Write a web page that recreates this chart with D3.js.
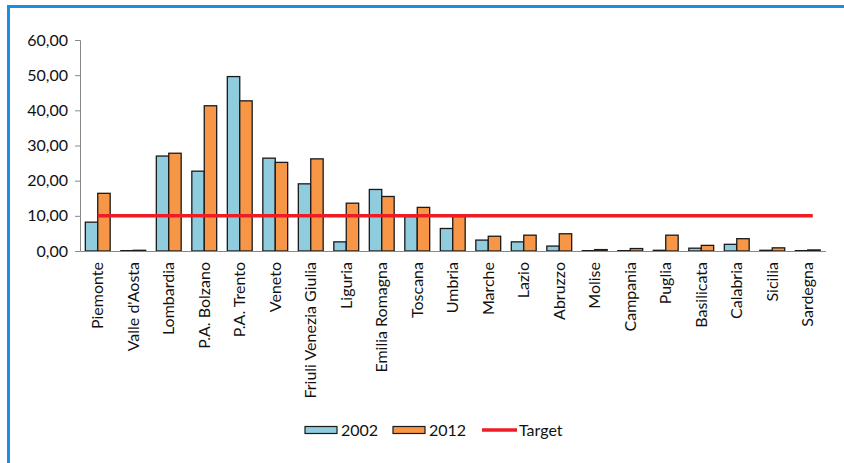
<!DOCTYPE html>
<html>
<head>
<meta charset="utf-8">
<script src="https://cdn.jsdelivr.net/npm/d3@7"></script>
<style>
  html, body { margin: 0; padding: 0; background: #fff; }
  svg { display: block; font-family: Lato, "Open Sans", sans-serif; }
</style>
</head>
<body>
<svg id="chart" width="844" height="463"></svg>
<script>
const categories = ["Piemonte", "Valle d'Aosta", "Lombardia", "P.A. Bolzano", "P.A. Trento", "Veneto",
  "Friuli Venezia Giulia", "Liguria", "Emilia Romagna", "Toscana", "Umbria", "Marche", "Lazio",
  "Abruzzo", "Molise", "Campania", "Puglia", "Basilicata", "Calabria", "Sicilia", "Sardegna"];
const values2002 = [8.2, 0.1, 27.0, 22.7, 49.6, 26.4, 19.1, 2.6, 17.5, 9.8, 6.4, 3.1, 2.6, 1.4, 0.1, 0.1, 0.2, 0.8, 1.9, 0.2, 0.1];
const values2012 = [16.4, 0.2, 27.8, 41.3, 42.7, 25.2, 26.2, 13.6, 15.5, 12.4, 9.8, 4.2, 4.5, 4.9, 0.4, 0.7, 4.5, 1.6, 3.5, 0.9, 0.3];
const targetValue = 10;
const yTicks = [0, 10, 20, 30, 40, 50, 60];
const seriesNames = ["2002", "2012"];
const seriesColors = ["#8FCDDE", "#F79646"];
const targetName = "Target";

const svg = d3.select("#chart");
const FS = 16;

// frame
svg.append("rect")
  .attr("x", 8.5).attr("y", 6.5)
  .attr("width", 860).attr("height", 480)
  .attr("fill", "#fff")
  .attr("stroke", "#1A8FDF").attr("stroke-width", 3);

const mLeft = 80, mRight = 825.5, mTop = 40, mBottom = 251;

const x = d3.scaleBand().domain(categories).range([mLeft, mRight]).paddingInner(0.3).paddingOuter(0.15);
const xs = d3.scaleBand().domain(seriesNames).range([0, x.bandwidth()]);
const y = d3.scaleLinear().domain([0, 60]).range([mBottom, mTop]);

const fmt = v => d3.format(".2f")(v).replace(".", ",");

// y axis
const yAxis = svg.append("g")
  .attr("transform", `translate(${mLeft},0)`)
  .call(d3.axisLeft(y).tickValues(yTicks).tickFormat(fmt).tickSize(5).tickPadding(7));
yAxis.select(".domain").attr("stroke", "#888");
yAxis.selectAll(".tick line").attr("stroke", "#888");
yAxis.selectAll(".tick text").attr("font-size", FS).attr("fill", "#111").attr("font-family", "Lato, sans-serif");

// bars
const data = categories.map((c, i) => ({c, vals: [values2002[i], values2012[i]]}));
const groups = svg.append("g").selectAll("g").data(data).join("g")
  .attr("transform", d => `translate(${x(d.c)},0)`);
groups.selectAll("rect").data(d => d.vals.map((v, j) => ({v, s: seriesNames[j], col: seriesColors[j]})))
  .join("rect")
  .attr("x", d => xs(d.s))
  .attr("width", xs.bandwidth())
  .attr("y", d => y(d.v))
  .attr("height", d => y(0) - y(d.v))
  .attr("fill", d => d.col)
  .attr("stroke", "#1a1a1a").attr("stroke-width", 1.3);

// x axis
const xAxis = svg.append("g")
  .attr("transform", `translate(0,${mBottom})`)
  .call(d3.axisBottom(x).tickSize(0).tickPadding(0));
xAxis.select(".domain").attr("stroke", "#888");
xAxis.selectAll(".tick text")
  .attr("transform", "rotate(-90)")
  .attr("text-anchor", "end")
  .attr("x", -11).attr("y", 0).attr("dy", "0.35em")
  .attr("font-size", FS).attr("fill", "#111").attr("font-family", "Lato, sans-serif");

// target line
const cx = c => x(c) + x.bandwidth() / 2;
svg.append("line")
  .attr("x1", cx(categories[0])).attr("x2", cx(categories[categories.length - 1]) + 5)
  .attr("y1", y(targetValue)).attr("y2", y(targetValue))
  .attr("stroke", "#EE1C25").attr("stroke-width", 3.5);

// legend
const lg = svg.append("g").attr("transform", "translate(305,430)");
const legendItems = [
  {name: seriesNames[0], type: "rect", col: seriesColors[0], x: 0},
  {name: seriesNames[1], type: "rect", col: seriesColors[1], x: 88},
  {name: targetName, type: "line", col: "#EE1C25", x: 177}
];
legendItems.forEach(it => {
  const g = lg.append("g").attr("transform", `translate(${it.x},0)`);
  if (it.type === "rect") {
    g.append("rect").attr("x", 0).attr("y", -3.5).attr("width", 32).attr("height", 7)
      .attr("fill", it.col).attr("stroke", "#1a1a1a").attr("stroke-width", 1.2);
  } else {
    g.append("line").attr("x1", 0).attr("x2", 35).attr("y1", 0).attr("y2", 0)
      .attr("stroke", it.col).attr("stroke-width", 3.5);
  }
  g.append("text").attr("x", it.type === "rect" ? 36 : 37).attr("y", 0).attr("dy", "0.35em")
    .attr("font-size", FS).attr("fill", "#111").text(it.name);
});
</script>
</body>
</html>
